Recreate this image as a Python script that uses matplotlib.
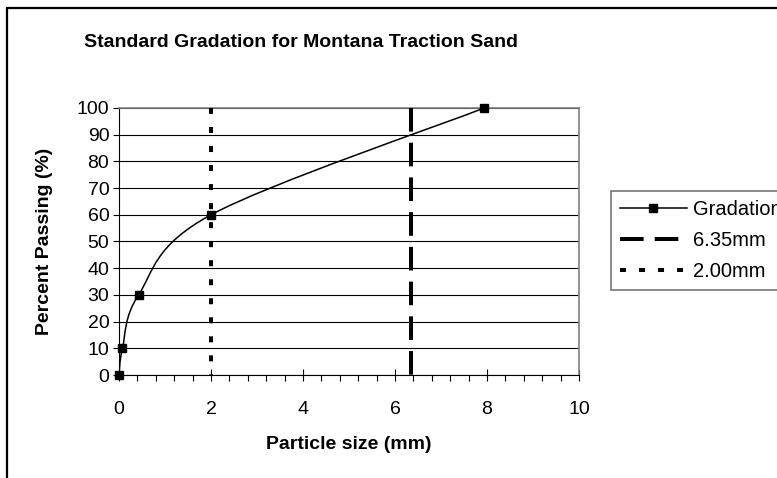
import numpy as np
import matplotlib
matplotlib.use("Agg")
import matplotlib.pyplot as plt
from matplotlib.path import Path
from matplotlib.patches import PathPatch, Rectangle
from matplotlib.lines import Line2D

# ── Daten ─────────────────────────────────────────────────────────────────────
size_mm = [0.0, 0.075, 0.425, 2.0, 7.94]
passing = [0.0, 10.0, 30.0, 60.0, 100.0]
cut_coarse = 6.35
cut_fine = 2.00
title = "Standard Gradation for Montana Traction Sand"
xlabel = "Particle size (mm)"
ylabel = "Percent Passing (%)"

plt.rcParams["font.family"] = ["Liberation Sans", "DejaVu Sans"]
plt.rcParams["lines.scale_dashes"] = False

W, H = 777, 478
fig = plt.figure(figsize=(W / 100, H / 100), dpi=100)
ax = fig.add_axes([119 / W, 1 - 375 / H, 460 / W, 267 / H])

# geglättete Linie (Excel-Stil, Bezier durch die Punkte)
P = np.column_stack([size_mm, passing])
Pe = np.vstack([P[0], P, P[-1]])
verts, codes = [P[0]], [Path.MOVETO]
for i in range(len(P) - 1):
    p0, p1, p2, p3 = Pe[i], Pe[i + 1], Pe[i + 2], Pe[i + 3]
    verts += [p1 + (p2 - p0) / 6, p2 - (p3 - p1) / 6, p2]
    codes += [Path.CURVE4] * 3
ax.add_patch(PathPatch(Path(verts, codes), fill=False, edgecolor="black",
                       lw=1.1, zorder=4))
ax.plot(size_mm, passing, ls="none", marker="s", ms=6, color="black",
        zorder=5, clip_on=False)

ax.set_xlim(0, 10)
ax.set_ylim(0, 100)
y0, y1 = ax.get_ylim()
ax.plot([cut_coarse, cut_coarse], [y1, y0], color="black", lw=2.9,
        dashes=(17, 8), zorder=3)
ax.plot([cut_fine, cut_fine], [y1, y0], color="black", lw=2.9,
        dashes=(4.3, 9.4), zorder=3)

ax.set_xticks(np.arange(0, 11, 2))
ax.set_xticks(np.arange(0, 10.01, 0.4), minor=True)
ax.set_yticks(np.arange(0, 101, 10))
ax.grid(axis="y", color="black", lw=0.8)
ax.set_axisbelow(True)
ax.tick_params(axis="x", which="major", direction="inout", length=9,
               labelsize=14, pad=14, width=0.8)
ax.tick_params(axis="x", which="minor", direction="out", length=4, width=0.8)
ax.tick_params(axis="y", direction="out", length=4, labelsize=14, pad=3, width=0.8)
for s in ["left", "bottom"]:
    ax.spines[s].set_color("black")
    ax.spines[s].set_linewidth(0.8)
for s in ["top", "right"]:
    ax.spines[s].set_color("#808080")
    ax.spines[s].set_linewidth(1.2)

fig.text(301 / W, 1 - 47 / H, title, ha="center", va="baseline",
         fontsize=14, fontweight="bold")
fig.text(349 / W, 1 - 449 / H, xlabel, ha="center", va="baseline",
         fontsize=14, fontweight="bold")
fig.text(45 / W, 1 - 241 / H, ylabel, ha="center", va="center",
         rotation=90, fontsize=14, fontweight="bold")

handles = [
    Line2D([], [], color="black", lw=1.1, marker="s", ms=6),
    Line2D([], [], color="black", lw=2.9, dashes=(17, 8)),
    Line2D([], [], color="black", lw=2.9, dashes=(4.3, 9.4)),
]
leg = fig.legend(handles, ["Gradation", f"{cut_coarse:.2f}mm", f"{cut_fine:.2f}mm"],
                 loc="upper left", bbox_to_anchor=(611 / W, 1 - 191 / H),
                 borderaxespad=0, fontsize=14.5, frameon=True, fancybox=False,
                 handlelength=3.3, handletextpad=0.3, borderpad=0.45,
                 labelspacing=0.6)
leg.get_frame().set_edgecolor("#555555")
leg.get_frame().set_linewidth(1.2)

# Rahmen des Diagramms
fig.add_artist(Rectangle((7 / W, -0.5), 2, 1.5 - 8 / H, transform=fig.transFigure,
                         fill=False, edgecolor="black", lw=1.6))

fig.savefig("out.png", dpi=100)
plt.close(fig)
